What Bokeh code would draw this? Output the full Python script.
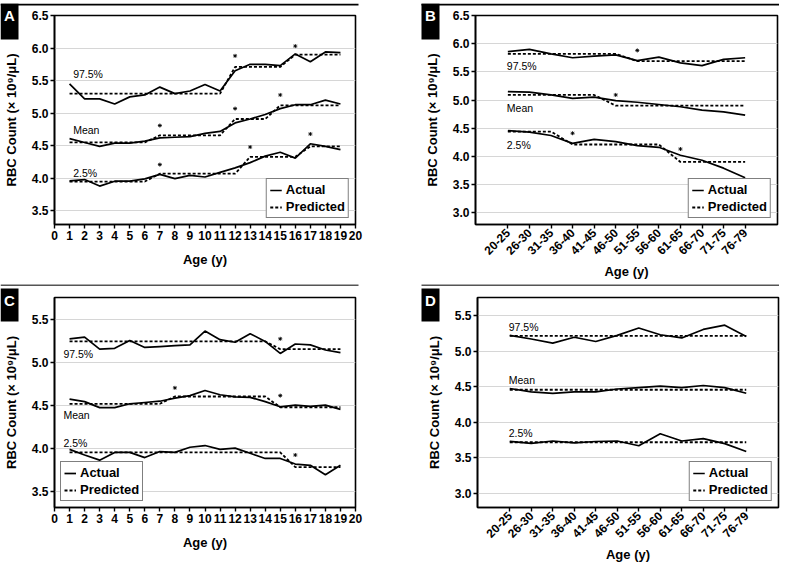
import math
from bokeh.plotting import figure
from bokeh.layouts import column, row
from bokeh.models import (Range1d, FactorRange, FixedTicker, PrintfTickFormatter,
                          Legend, LegendItem)
from bokeh.core.properties import value
from bokeh.embed import file_html
from bokeh.resources import INLINE

FONT = "Liberation Sans"

# ---------------- data ----------------
child_ages = list(range(1, 20))
adult_ages = ["20-25", "26-30", "31-35", "36-40", "41-45", "46-50",
              "51-55", "56-60", "61-65", "66-70", "71-75", "76-79"]
series_labels = ["97.5%", "Mean", "2.5%"]
panel_letters = ["A", "B", "C", "D"]

# Panel A
a_hi_act = [5.45, 5.22, 5.22, 5.14, 5.25, 5.28, 5.40, 5.30, 5.34, 5.44,
            5.34, 5.65, 5.75, 5.75, 5.73, 5.91, 5.79, 5.94, 5.93]
a_hi_pred = [5.30, 5.30, 5.30, 5.30, 5.30, 5.30, 5.30, 5.30, 5.30, 5.30,
             5.30, 5.71, 5.71, 5.71, 5.71, 5.90, 5.90, 5.90, 5.90]
a_mean_act = [4.61, 4.55, 4.49, 4.54, 4.54, 4.57, 4.62, 4.63, 4.64, 4.69,
              4.72, 4.85, 4.91, 4.98, 5.07, 5.13, 5.13, 5.20, 5.14]
a_mean_pred = [4.55, 4.55, 4.55, 4.55, 4.55, 4.55, 4.66, 4.66, 4.66, 4.66,
               4.66, 4.91, 4.91, 4.91, 5.12, 5.12, 5.12, 5.12, 5.12]
a_lo_act = [3.96, 3.98, 3.88, 3.955, 3.955, 3.99, 4.06, 3.995, 4.045, 4.02,
            4.09, 4.16, 4.24, 4.34, 4.40, 4.31, 4.53, 4.49, 4.44]
a_lo_pred = [3.95, 3.95, 3.95, 3.95, 3.95, 3.95, 4.07, 4.07, 4.07, 4.07,
             4.07, 4.07, 4.33, 4.33, 4.33, 4.33, 4.49, 4.49, 4.49]
a_star_x = [12, 16, 7, 12, 15, 7, 13, 17]
a_star_y = [5.88, 6.03, 4.81, 5.07, 5.28, 4.21, 4.48, 4.68]

# Panel B
b_hi_act = [5.86, 5.90, 5.82, 5.75, 5.78, 5.80, 5.70, 5.76, 5.66, 5.61, 5.72, 5.75]
b_hi_pred = [5.82, 5.82, 5.82, 5.82, 5.82, 5.82, 5.69, 5.69, 5.69, 5.69, 5.69, 5.69]
b_mean_act = [5.15, 5.14, 5.09, 5.03, 5.05, 4.99, 4.96, 4.92, 4.88, 4.82, 4.79, 4.73]
b_mean_pred = [5.09, 5.09, 5.09, 5.09, 5.09, 4.90, 4.90, 4.90, 4.90, 4.90, 4.90, 4.90]
b_lo_act = [4.455, 4.43, 4.37, 4.23, 4.30, 4.26, 4.19, 4.16, 4.02, 3.93, 3.79, 3.62]
b_lo_pred = [4.44, 4.44, 4.44, 4.21, 4.21, 4.21, 4.21, 4.21, 3.90, 3.90, 3.90, 3.90]
b_star_x = ["51-55", "46-50", "36-40", "61-65"]
b_star_y = [5.88, 5.09, 4.41, 4.13]

# Panel C
c_hi_act = [5.27, 5.29, 5.15, 5.16, 5.25, 5.17, 5.18, 5.19, 5.20, 5.36,
            5.26, 5.23, 5.33, 5.24, 5.10, 5.21, 5.20, 5.14, 5.11]
c_hi_pred = [5.24, 5.24, 5.24, 5.24, 5.24, 5.24, 5.24, 5.24, 5.24, 5.24,
             5.24, 5.24, 5.24, 5.24, 5.15, 5.15, 5.15, 5.15, 5.15]
c_mean_act = [4.57, 4.54, 4.47, 4.47, 4.515, 4.53, 4.545, 4.58, 4.61, 4.67,
              4.62, 4.595, 4.59, 4.54, 4.48, 4.50, 4.485, 4.50, 4.45]
c_mean_pred = [4.515, 4.515, 4.515, 4.515, 4.515, 4.515, 4.515, 4.60, 4.60, 4.60,
               4.60, 4.60, 4.60, 4.60, 4.475, 4.475, 4.475, 4.475, 4.475]
c_lo_act = [3.985, 3.92, 3.86, 3.95, 3.95, 3.89, 3.96, 3.95, 4.01, 4.03,
            3.985, 4.00, 3.94, 3.88, 3.88, 3.815, 3.80, 3.69, 3.80]
c_lo_pred = [3.95, 3.95, 3.95, 3.95, 3.95, 3.95, 3.95, 3.95, 3.95, 3.95,
             3.95, 3.95, 3.95, 3.95, 3.95, 3.78, 3.78, 3.78, 3.78]
c_star_x = [8, 15, 15, 16]
c_star_y = [4.70, 4.61, 5.27, 3.92]

# Panel D
d_hi_act = [5.226, 5.175, 5.116, 5.20, 5.14, 5.226, 5.33, 5.235, 5.19, 5.31, 5.37, 5.21]
d_hi_pred = [5.22, 5.22, 5.22, 5.22, 5.22, 5.22, 5.22, 5.22, 5.22, 5.22, 5.22, 5.22]
d_mean_act = [4.477, 4.43, 4.41, 4.43, 4.43, 4.47, 4.49, 4.51, 4.49, 4.52, 4.49, 4.41]
d_mean_pred = [4.46, 4.46, 4.46, 4.46, 4.46, 4.46, 4.46, 4.46, 4.46, 4.46, 4.46, 4.46]
d_lo_act = [3.733, 3.705, 3.737, 3.71, 3.73, 3.737, 3.67, 3.84, 3.737, 3.77, 3.70, 3.59]
d_lo_pred = [3.72, 3.72, 3.72, 3.72, 3.72, 3.72, 3.72, 3.72, 3.72, 3.72, 3.72, 3.72]

y_label = "RBC Count (\u00d7 10\u2079/\u03bcL)"
x_label = "Age (y)"


def make_panel(xs, series, stars, lab_x, lab_y, lab_dx, y_rng, yticks,
               categorical, legend_loc, fw, fh, fl, fr, ft, fb, xlab_standoff):
    if categorical:
        xr = FactorRange(factors=xs, range_padding=1.0, range_padding_units="absolute")
    else:
        xr = Range1d(0, 20)
    p = figure(frame_width=fw, frame_height=fh, x_range=xr, y_range=Range1d(*y_rng),
               output_backend="svg", toolbar_location=None,
               min_border_left=fl, min_border_right=fr,
               min_border_top=ft, min_border_bottom=fb)
    p.background_fill_color = "white"
    p.border_fill_color = "white"
    p.outline_line_color = "black"
    p.outline_line_width = 1.6
    p.xgrid.grid_line_color = None
    p.ygrid.grid_line_color = "#d6d6d6"
    p.ygrid.grid_line_width = 1
    p.yaxis.ticker = FixedTicker(ticks=yticks)
    p.ygrid.ticker = FixedTicker(ticks=yticks)
    p.yaxis.formatter = PrintfTickFormatter(format="%.1f")
    if not categorical:
        p.xaxis.ticker = FixedTicker(ticks=list(range(0, 21)))
    else:
        p.xaxis.major_label_orientation = math.pi / 4
    for ax in (p.xaxis, p.yaxis):
        ax.axis_line_color = "black"
        ax.axis_line_width = 1.6
        ax.major_tick_line_color = "black"
        ax.major_tick_line_width = 1.4
        ax.major_tick_out = 4
        ax.major_tick_in = 0
        ax.minor_tick_line_color = None
        ax.major_label_text_font = FONT
        ax.major_label_text_font_style = "bold"
        ax.major_label_text_font_size = "12px"
        ax.major_label_text_color = "black"
        ax.major_label_standoff = 2
        ax.axis_label_text_font = FONT
        ax.axis_label_text_font_style = "bold"
        ax.axis_label_text_font_size = "13px"
        ax.axis_label_text_color = "black"
    p.xaxis.axis_label = x_label
    p.yaxis.axis_label = y_label
    p.xaxis.axis_label_standoff = xlab_standoff
    p.yaxis.axis_label_standoff = 10

    act_r = None
    pred_r = None
    for act, pred in series:
        r1 = p.line(xs, act, line_color="black", line_width=1.7)
        r2 = p.line(xs, pred, line_color="black", line_width=1.8, line_dash="3 2")
        act_r = act_r or r1
        pred_r = pred_r or r2

    if stars:
        p.scatter(stars[0], stars[1], marker="asterisk", size=4, line_color="black", line_width=0.9)

    p.text(x=[lab_x] * 3, y=lab_y, text=series_labels, x_offset=lab_dx,
           text_align="left", text_baseline="middle", text_color="black",
           text_font=value(FONT), text_font_size="10.5px")

    legend = Legend(items=[LegendItem(label="Actual", renderers=[act_r]),
                           LegendItem(label="Predicted", renderers=[pred_r])],
                    location=legend_loc)
    legend.label_text_font = FONT
    legend.label_text_font_style = "bold"
    legend.label_text_font_size = "13px"
    legend.label_text_color = "black"
    legend.glyph_width = 12
    legend.glyph_height = 14
    legend.label_height = 14
    legend.label_standoff = 4
    legend.spacing = 2
    legend.padding = 3
    legend.margin = 6
    legend.border_line_color = "black"
    legend.border_line_width = 1
    legend.background_fill_color = "white"
    legend.background_fill_alpha = 1
    p.add_layout(legend)
    return p


pA = make_panel(child_ages,
                [(a_hi_act, a_hi_pred), (a_mean_act, a_mean_pred), (a_lo_act, a_lo_pred)],
                (a_star_x, a_star_y), 1.24, [5.60, 4.74, 4.085], 0,
                (3.29, 6.5), [3.5, 4.0, 4.5, 5.0, 5.5, 6.0, 6.5], False, "bottom_right",
                301, 209, 50, 41, 15, 57, 9)
pB = make_panel(adult_ages,
                [(b_hi_act, b_hi_pred), (b_mean_act, b_mean_pred), (b_lo_act, b_lo_pred)],
                (b_star_x, b_star_y), "20-25", [5.605, 4.86, 4.21], -1,
                (2.79, 6.5), [3.0, 3.5, 4.0, 4.5, 5.0, 5.5, 6.0, 6.5], True, "bottom_right",
                302, 209, 79, 6, 15, 57, 2)
pC = make_panel(child_ages,
                [(c_hi_act, c_hi_pred), (c_mean_act, c_mean_pred), (c_lo_act, c_lo_pred)],
                (c_star_x, c_star_y), 0.59, [5.09, 4.38, 4.06], 0,
                (3.31, 5.75), [3.5, 4.0, 4.5, 5.0, 5.5], False, "bottom_left",
                301, 210, 50, 41, 16, 54, 9)
pD = make_panel(adult_ages,
                [(d_hi_act, d_hi_pred), (d_mean_act, d_mean_pred), (d_lo_act, d_lo_pred)],
                None, "20-25", [5.35, 4.60, 3.85], -1,
                (2.80, 5.76), [3.0, 3.5, 4.0, 4.5, 5.0, 5.5], True, "bottom_right",
                301, 210, 81, 5, 16, 54, 2)

# ---------- transparent overlay for panel headers (rule + letter tab) ----------
W, H = 779, 561
ov = figure(width=W, height=H, x_range=Range1d(0, W), y_range=Range1d(H, 0),
            x_axis_type=None, y_axis_type=None, output_backend="svg",
            toolbar_location=None, min_border=0)
ov.grid.visible = False
ov.outline_line_color = None
ov.background_fill_color = None
ov.border_fill_color = None
ov.margin = (-H, 0, 0, 0)

tab_left = [0, 421, 0, 421]
tab_top = [0, 0, 285, 285]
tab_bottom = [36, 36, 318, 318]
rule_left = [0, 421, 0, 421]
rule_right = [358, 779, 358, 779]
rule_top = [0, 0, 281, 281]
rule_bottom = [2, 2, 282.6, 282.6]
rule_color = ["black", "black", "#555555", "#555555"]

ov.quad(left=rule_left, right=rule_right, top=rule_top, bottom=rule_bottom,
        fill_color=rule_color, line_color=None)
ov.quad(left=tab_left, right=[l + 18 for l in tab_left], top=tab_top, bottom=tab_bottom,
        fill_color="black", line_color=None)
ov.text(x=[l + 9 for l in tab_left], y=[t + 3 for t in tab_top], text=panel_letters,
        text_align="center", text_baseline="top", text_color="white",
        text_font=value(FONT), text_font_style="bold", text_font_size="15px")

layout = column(row(pA, pB), row(pC, pD), ov)
open("out.html", "w").write(file_html(layout, INLINE))
